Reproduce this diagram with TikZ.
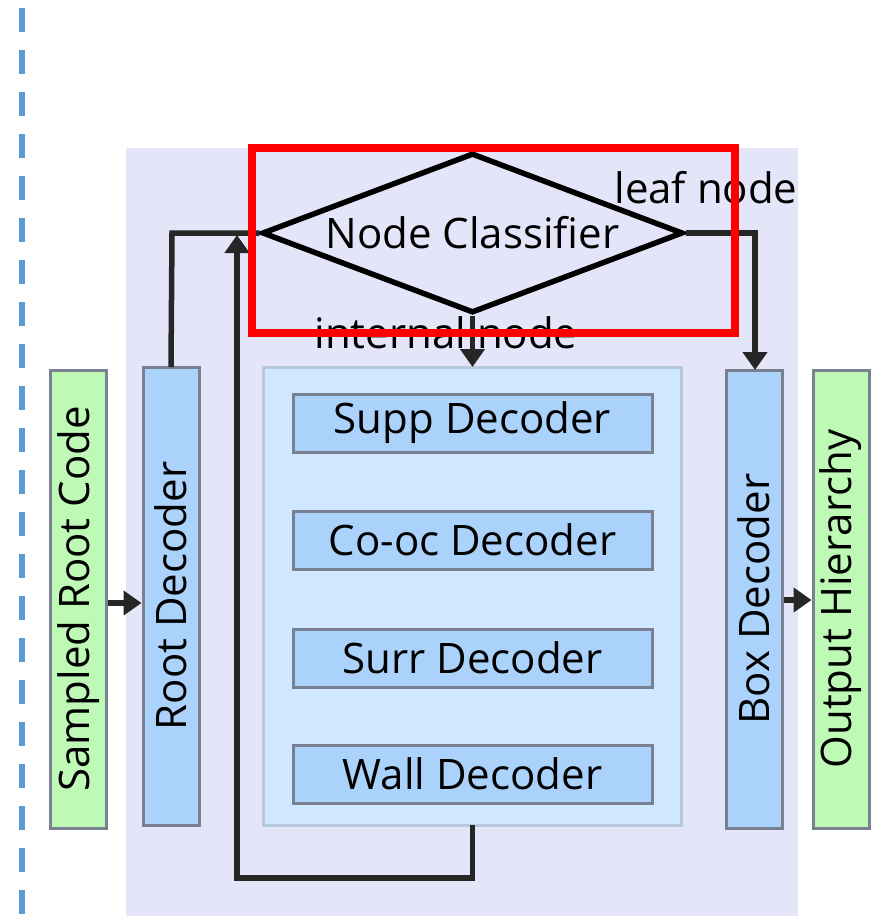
\documentclass[tikz,border=0pt]{standalone}
\usepackage{fontspec}
\setmainfont{Open Sans}
\usetikzlibrary{shapes.geometric,arrows.meta}
\definecolor{bglav}{RGB}{229,229,250}
\definecolor{innerblue}{RGB}{208,232,255}
\definecolor{decblue}{RGB}{170,210,250}
\definecolor{decgreen}{RGB}{190,250,182}
\definecolor{edgegray}{RGB}{120,128,145}
\definecolor{dashblue}{RGB}{91,155,213}
\tikzset{
  dec/.style={draw=edgegray, fill=decblue, line width=3pt, inner sep=0pt,
    minimum width=359pt, minimum height=58pt, font=\fontsize{42}{48}\selectfont},
  vdec/.style={dec, minimum width=458pt, minimum height=56pt, rotate=90},
  vout/.style={vdec, fill=decgreen},
  flow/.style={line width=5.5pt, black!85},
  tip/.style={-{Triangle[length=18pt,width=24pt]}},
  lbl/.style={font=\fontsize{42}{48}\selectfont, inner sep=0pt}
}
\begin{document}
\begin{tikzpicture}[x=1pt,y=-1pt]
\useasboundingbox (0,0) rectangle (871,916);
% background
\fill[bglav] (126,148) rectangle (798,916);
\draw[dashblue, line width=6pt, dash pattern=on 24pt off 18pt] (22,8) -- (22,916);
\draw[innerblue!70!edgegray, fill=innerblue, line width=3pt] (263,367) rectangle (681,825);

% nodes
\node[vout] (code) at (78.5,599) {Sampled Root Code};
\node[vdec] (root) at (171,596) {Root Decoder};
\node[vdec] (box) at (754,599) {Box Decoder};
\node[vout] (out) at (841,599) {Output Hierarchy};
\node[dec] (supp) at (472.5,423) {Supp Decoder};
\node[dec] (cooc) at (472.5,540) {Co-oc Decoder};
\node[dec] (surr) at (472.5,658) {Surr Decoder};
\node[dec] (wall) at (472.5,774) {Wall Decoder};
\node[draw, diamond, line width=5.5pt, aspect=2.63, minimum width=421pt,
  minimum height=160pt, inner sep=0pt, lbl] (cls) at (472.5,233) {Node Classifier};
\coordinate (intop) at (472.5,367);
\coordinate (inbot) at (472.5,825);
\coordinate (loopL) at (237,878);
\coordinate (loopT) at (237,235);
\coordinate (rootT) at (172,233);
\coordinate (leafR) at (755,233);

% flow
\draw[flow] (root.east |- 0,367) -- (rootT) -- (cls.west);
\draw[flow, tip] (inbot) -- (472.5,878) -- (loopL) -- (loopT);
\draw[flow, tip] (cls.south) -- (intop);
\draw[flow, tip] (cls.east) -- (leafR) -- (755,370);
\draw[flow, tip] (code.south |- 0,603) -- (root.north |- 0,603);
\draw[flow, tip] (box.south |- 0,600) -- (out.north |- 0,600);

\node[lbl] (leaf) at (706,188) {leaf node};
\node[lbl] (inner) at (446,333) {internal node};

% highlight
\draw[red, line width=8pt] (252,148) rectangle (735,333);
\end{tikzpicture}
\end{document}
